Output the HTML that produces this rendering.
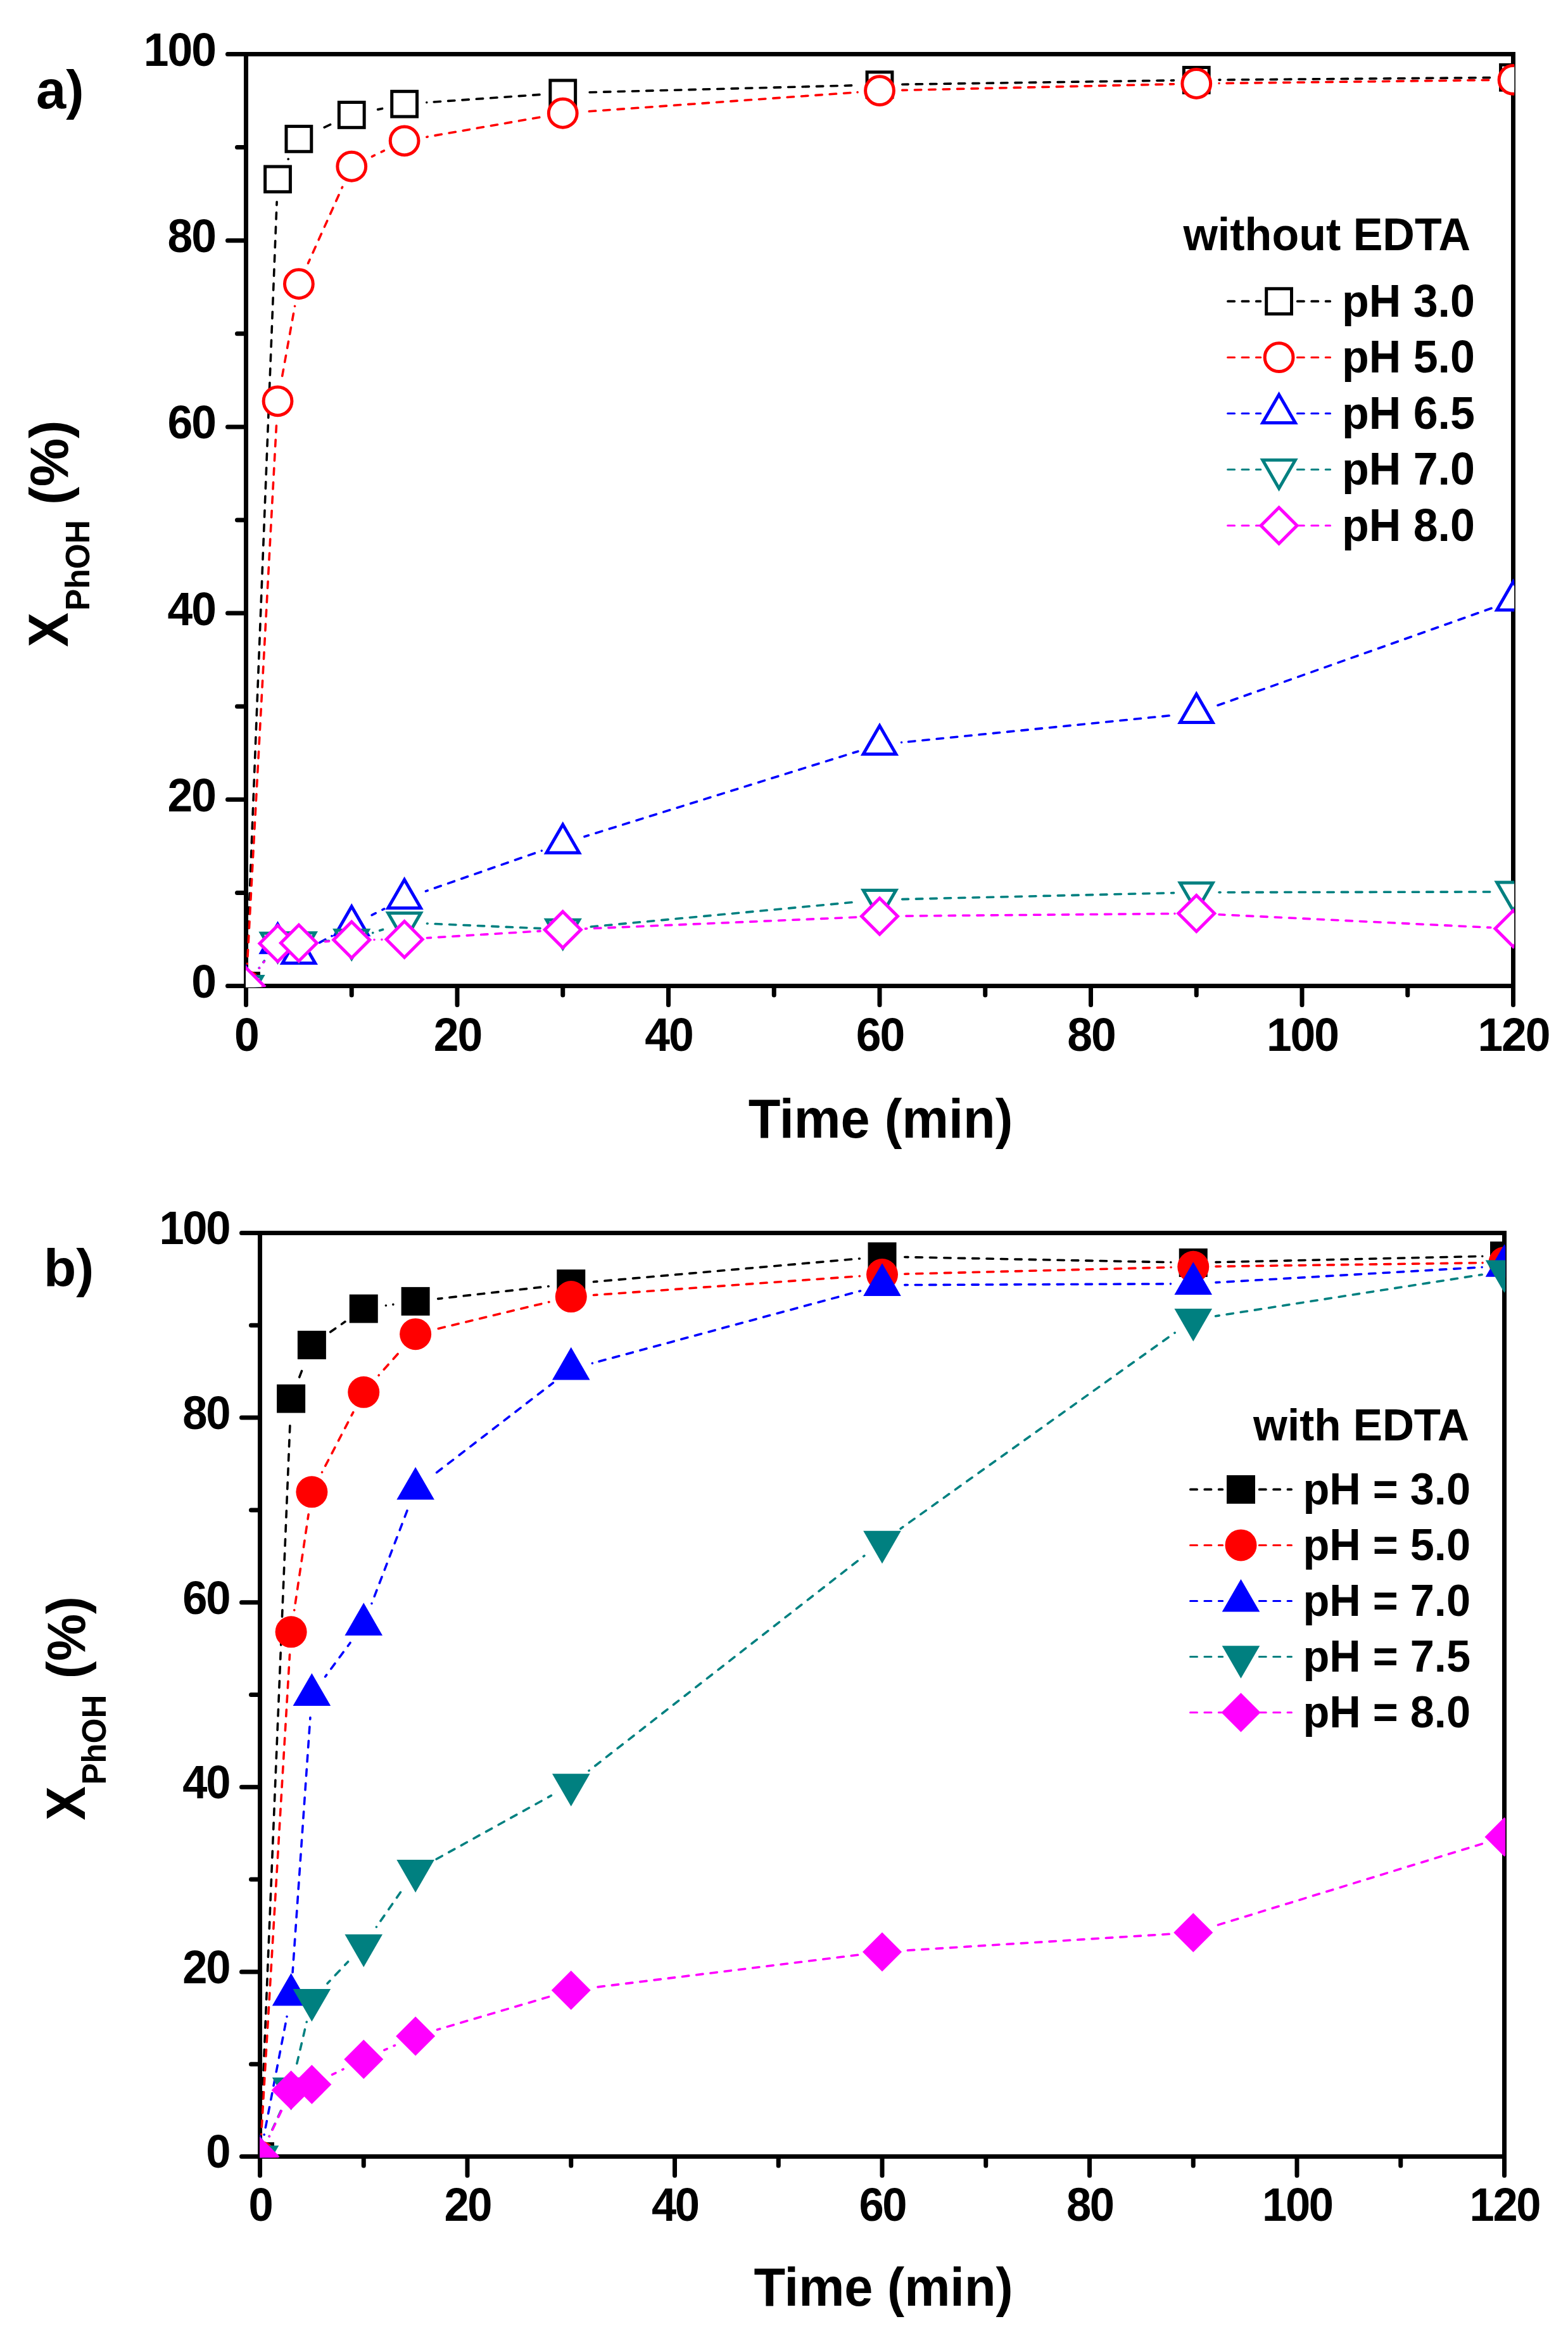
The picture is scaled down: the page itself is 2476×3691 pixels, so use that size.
<!DOCTYPE html>
<html lang="en"><head><meta charset="utf-8"><title>Phenol conversion vs time</title>
<style>html,body{margin:0;padding:0;background:#fff;overflow:hidden;width:2476px;height:3691px}svg{display:block}text{font-family:'Liberation Sans', Arial, Helvetica, sans-serif;font-weight:bold;fill:#000}</style>
</head><body>
<svg width="2476" height="3691" viewBox="0 0 2476 3691">
<rect width="2476" height="3691" fill="#fff"/>
<g stroke="#000" stroke-width="7" fill="none" stroke-linecap="butt">
<path d="M385 85.5H2393 M385 1556.5H2393 M388.5 82V1560 M2389.5 82V1560"/>
<path d="M359.5 1556.5H388.5 M374.5 1409.4H388.5 M359.5 1262.3H388.5 M374.5 1115.2H388.5 M359.5 968.1H388.5 M374.5 821H388.5 M359.5 673.9H388.5 M374.5 526.8H388.5 M359.5 379.7H388.5 M374.5 232.6H388.5 M359.5 85.5H388.5 M388.5 1556.5V1586.5 M555.25 1556.5V1571 M722 1556.5V1586.5 M888.75 1556.5V1571 M1055.5 1556.5V1586.5 M1222.25 1556.5V1571 M1389 1556.5V1586.5 M1555.75 1556.5V1571 M1722.5 1556.5V1586.5 M1889.25 1556.5V1571 M2056 1556.5V1586.5 M2222.75 1556.5V1571 M2389.5 1556.5V1586.5" stroke-linecap="round"/>
</g>
<clipPath id="clip1"><rect x="388.1" y="85.5" width="2003.1" height="1472.7"/></clipPath>
<g clip-path="url(#clip1)">
<path d="M389.88 1521.34L389.88 1521.32 M390.33 1509.94L390.74 1499.54 M391.21 1487.55L391.62 1477.16 M392.09 1465.17L392.5 1454.78 M392.97 1442.79L393.37 1432.4 M393.85 1420.4L394.25 1410.01 M394.72 1398.02L395.13 1387.63 M395.6 1375.64L396.01 1365.25 M396.48 1353.26L396.89 1342.86 M397.36 1330.87L397.77 1320.48 M398.24 1308.49L398.65 1298.1 M399.12 1286.11L399.53 1275.72 M400 1263.73L400.41 1253.33 M400.88 1241.34L401.29 1230.95 M401.76 1218.96L402.17 1208.57 M402.64 1196.58L403.05 1186.19 M403.52 1174.19L403.92 1163.8 M404.4 1151.81L404.8 1141.42 M405.27 1129.43L405.68 1119.04 M406.15 1107.05L406.56 1096.65 M407.03 1084.66L407.44 1074.27 M407.91 1062.28L408.32 1051.89 M408.79 1039.9L409.2 1029.51 M409.67 1017.52L410.08 1007.12 M410.55 995.13L410.96 984.74 M411.43 972.75L411.84 962.36 M412.31 950.37L412.72 939.98 M413.19 927.98L413.6 917.59 M414.07 905.6L414.47 895.21 M414.95 883.22L415.35 872.83 M415.82 860.84L416.23 850.44 M416.7 838.45L417.11 828.06 M417.58 816.07L417.99 805.68 M418.46 793.69L418.87 783.3 M419.34 771.31L419.75 760.91 M420.22 748.92L420.63 738.53 M421.1 726.54L421.51 716.15 M421.98 704.16L422.39 693.77 M422.86 681.77L423.27 671.38 M423.74 659.39L424.15 649 M424.62 637.01L425.02 626.62 M425.5 614.63L425.9 604.23 M426.37 592.24L426.78 581.85 M427.25 569.86L427.66 559.47 M428.13 547.48L428.54 537.09 M429.01 525.1L429.42 514.7 M429.89 502.71L430.3 492.32 M430.77 480.33L431.18 469.94 M431.65 457.95L432.06 447.56 M432.53 435.56L432.94 425.17 M433.41 413.18L433.82 402.79 M434.29 390.8L434.7 380.41 M435.17 368.42L435.57 358.02 M436.05 346.03L436.45 335.64 M436.92 323.65L437.12 318.68 M455.16 251.21L455.24 251.06 M512.16 201.02L521.62 196.72 M596.63 172.87L603.56 171.44 M673.79 161.76L673.81 161.76 M685.23 160.96L695.61 160.24 M707.58 159.41L717.95 158.69 M729.93 157.86L740.3 157.14 M752.27 156.31L762.65 155.59 M774.62 154.76L784.99 154.04 M796.96 153.21L807.34 152.49 M819.31 151.66L829.69 150.94 M841.66 150.11L852.03 149.39 M931.13 145.73L941.53 145.46 M953.52 145.15L963.92 144.87 M975.91 144.56L986.31 144.29 M998.31 143.97L1008.7 143.7 M1020.7 143.39L1031.09 143.12 M1043.09 142.8L1053.49 142.53 M1065.48 142.22L1075.88 141.94 M1087.88 141.63L1098.27 141.36 M1110.27 141.04L1120.66 140.77 M1132.66 140.46L1143.06 140.19 M1155.05 139.87L1165.45 139.6 M1177.44 139.29L1187.84 139.01 M1199.84 138.7L1210.23 138.43 M1222.23 138.11L1232.63 137.84 M1244.62 137.53L1255.02 137.26 M1267.01 136.94L1277.41 136.67 M1289.41 136.36L1299.8 136.08 M1311.8 135.77L1322.2 135.5 M1334.19 135.18L1344.59 134.91 M1424.8 133.22L1434.17 133.08 M1446.17 132.91L1456.56 132.76 M1468.56 132.58L1478.96 132.43 M1490.96 132.25L1501.36 132.1 M1513.36 131.92L1523.76 131.77 M1535.76 131.59L1546.16 131.44 M1558.15 131.26L1568.55 131.11 M1580.55 130.93L1590.95 130.78 M1602.95 130.6L1613.35 130.45 M1625.35 130.27L1635.75 130.12 M1647.74 129.94L1658.14 129.79 M1670.14 129.62L1680.54 129.46 M1692.54 129.29L1702.94 129.13 M1714.94 128.96L1725.34 128.8 M1737.33 128.63L1747.73 128.47 M1759.73 128.3L1770.13 128.15 M1782.13 127.97L1792.53 127.82 M1804.53 127.64L1814.93 127.49 M1826.92 127.31L1837.32 127.16 M1849.32 126.98L1853.45 126.92 M1925.05 126.1L1926.92 126.08 M1938.92 125.98L1949.32 125.9 M1961.32 125.8L1971.72 125.71 M1983.72 125.62L1994.11 125.53 M2006.11 125.43L2016.51 125.35 M2028.51 125.25L2038.91 125.16 M2050.91 125.06L2061.31 124.98 M2073.31 124.88L2083.71 124.79 M2095.71 124.69L2106.11 124.61 M2118.11 124.51L2128.51 124.42 M2140.51 124.33L2150.91 124.24 M2162.91 124.14L2173.31 124.06 M2185.31 123.96L2195.71 123.87 M2207.71 123.77L2218.11 123.69 M2230.11 123.59L2240.51 123.5 M2252.51 123.4L2262.91 123.32 M2274.91 123.22L2285.3 123.13 M2297.3 123.03L2307.7 122.95 M2319.7 122.85L2330.1 122.76 M2342.1 122.67L2352.5 122.58" stroke="#000" stroke-width="3.6" stroke-linecap="round" fill="none"/>
<rect x="368.6" y="1536.6" width="39.8" height="39.8" fill="#fff" stroke="#000" stroke-width="5.0"/>
<rect x="418.62" y="263.01" width="39.8" height="39.8" fill="#fff" stroke="#000" stroke-width="5.0"/>
<rect x="451.98" y="199.46" width="39.8" height="39.8" fill="#fff" stroke="#000" stroke-width="5.0"/>
<rect x="535.35" y="161.51" width="39.8" height="39.8" fill="#fff" stroke="#000" stroke-width="5.0"/>
<rect x="618.73" y="144.3" width="39.8" height="39.8" fill="#fff" stroke="#000" stroke-width="5.0"/>
<rect x="868.85" y="126.94" width="39.8" height="39.8" fill="#fff" stroke="#000" stroke-width="5.0"/>
<rect x="1369.1" y="113.85" width="39.8" height="39.8" fill="#fff" stroke="#000" stroke-width="5.0"/>
<rect x="1869.35" y="106.49" width="39.8" height="39.8" fill="#fff" stroke="#000" stroke-width="5.0"/>
<rect x="2369.6" y="102.37" width="39.8" height="39.8" fill="#fff" stroke="#000" stroke-width="5.0"/>
<path d="M390.4 1521.36L390.41 1521.34 M391.02 1509.97L391.58 1499.58 M392.23 1487.6L392.8 1477.22 M393.45 1465.23L394.01 1454.85 M394.66 1442.87L395.22 1432.48 M395.87 1420.5L396.43 1410.11 M397.08 1398.13L397.64 1387.75 M398.29 1375.77L398.86 1365.38 M399.51 1353.4L400.07 1343.01 M400.72 1331.03L401.28 1320.65 M401.93 1308.66L402.49 1298.28 M403.14 1286.3L403.7 1275.91 M404.35 1263.93L404.92 1253.54 M405.57 1241.56L406.13 1231.18 M406.78 1219.19L407.34 1208.81 M407.99 1196.83L408.55 1186.44 M409.2 1174.46L409.76 1164.08 M410.41 1152.09L410.98 1141.71 M411.63 1129.73L412.19 1119.34 M412.84 1107.36L413.4 1096.97 M414.05 1084.99L414.61 1074.61 M415.26 1062.62L415.82 1052.24 M416.47 1040.26L417.04 1029.87 M417.69 1017.89L418.25 1007.51 M418.9 995.52L419.46 985.14 M420.11 973.16L420.67 962.77 M421.32 950.79L421.88 940.4 M422.53 928.42L423.1 918.04 M423.75 906.05L424.31 895.67 M424.96 883.69L425.52 873.3 M426.17 861.32L426.73 850.94 M427.38 838.95L427.94 828.57 M428.59 816.59L429.16 806.2 M429.81 794.22L430.37 783.83 M431.02 771.85L431.58 761.47 M432.23 749.48L432.79 739.1 M433.44 727.12L434 716.73 M434.65 704.75L435.22 694.36 M435.87 682.38L436.43 672 M445.7 593.5L447.54 583.26 M449.67 571.45L451.52 561.22 M453.64 549.41L455.49 539.17 M457.62 527.36L459.46 517.13 M461.59 505.32L463.43 495.08 M465.54 483.39L465.55 483.37 M486.55 415.6L489.1 409.93 M494.02 398.98L498.28 389.5 M503.2 378.55L507.47 369.07 M512.39 358.12L516.65 348.64 M521.57 337.69L525.83 328.2 M530.75 317.26L535.02 307.77 M539.94 296.83L540.57 295.41 M587.46 247.13L591.46 245.19 M602.25 239.95L606.42 237.93 M673.89 216.16L675.25 215.93 M687.07 213.87L697.32 212.09 M709.14 210.03L719.38 208.24 M731.21 206.19L741.45 204.4 M753.27 202.34L763.52 200.56 M775.34 198.5L785.59 196.72 M797.41 194.66L807.66 192.88 M819.48 190.82L829.72 189.04 M841.55 186.98L851.79 185.19 M930.33 175.8L940.71 175.06 M952.68 174.21L963.05 173.47 M975.02 172.62L985.39 171.88 M997.36 171.03L1007.74 170.29 M1019.71 169.44L1030.08 168.7 M1042.05 167.85L1052.42 167.11 M1064.39 166.26L1074.77 165.52 M1086.74 164.67L1097.11 163.93 M1109.08 163.08L1119.45 162.34 M1131.42 161.49L1141.8 160.75 M1153.77 159.9L1164.14 159.16 M1176.11 158.31L1186.48 157.57 M1198.45 156.72L1208.83 155.98 M1220.8 155.13L1231.17 154.39 M1243.14 153.54L1253.51 152.8 M1265.48 151.95L1275.86 151.21 M1287.83 150.36L1298.2 149.62 M1310.17 148.77L1320.54 148.03 M1332.51 147.18L1342.89 146.44 M1354.06 145.65L1354.08 145.65 M1424.79 142.36L1432.36 142.19 M1444.36 141.93L1454.76 141.69 M1466.75 141.43L1477.15 141.19 M1489.15 140.93L1499.54 140.69 M1511.54 140.42L1521.94 140.19 M1533.94 139.92L1544.33 139.69 M1556.33 139.42L1566.73 139.19 M1578.72 138.92L1589.12 138.69 M1601.12 138.42L1611.52 138.19 M1623.51 137.92L1633.91 137.69 M1645.91 137.42L1656.31 137.19 M1668.3 136.92L1678.7 136.69 M1690.7 136.42L1701.09 136.19 M1713.09 135.92L1723.49 135.69 M1735.49 135.42L1745.88 135.19 M1757.88 134.92L1768.28 134.69 M1780.27 134.42L1790.67 134.19 M1802.67 133.92L1813.07 133.69 M1825.06 133.42L1835.46 133.19 M1847.46 132.92L1853.46 132.78 M1925.04 131.55L1925.06 131.55 M1937.04 131.41L1947.44 131.28 M1959.44 131.14L1969.84 131.01 M1981.84 130.87L1992.24 130.74 M2004.24 130.6L2014.64 130.47 M2026.64 130.33L2037.04 130.2 M2049.04 130.06L2059.43 129.93 M2071.43 129.79L2081.83 129.66 M2093.83 129.52L2104.23 129.39 M2116.23 129.25L2126.63 129.12 M2138.63 128.98L2149.03 128.85 M2161.03 128.71L2171.43 128.58 M2183.43 128.44L2193.82 128.31 M2205.82 128.17L2216.22 128.04 M2228.22 127.9L2238.62 127.77 M2250.62 127.63L2261.02 127.5 M2273.02 127.36L2283.42 127.23 M2295.42 127.09L2305.82 126.96 M2317.82 126.82L2328.22 126.69 M2340.21 126.55L2350.61 126.42" stroke="#f00" stroke-width="3.6" stroke-linecap="round" fill="none"/>
<circle cx="388.5" cy="1556.5" r="22.4" fill="#fff" stroke="#f00" stroke-width="5.0"/>
<circle cx="438.52" cy="633.3" r="22.4" fill="#fff" stroke="#f00" stroke-width="5.0"/>
<circle cx="471.88" cy="448.25" r="22.4" fill="#fff" stroke="#f00" stroke-width="5.0"/>
<circle cx="555.25" cy="262.76" r="22.4" fill="#fff" stroke="#f00" stroke-width="5.0"/>
<circle cx="638.62" cy="222.3" r="22.4" fill="#fff" stroke="#f00" stroke-width="5.0"/>
<circle cx="888.75" cy="178.76" r="22.4" fill="#fff" stroke="#f00" stroke-width="5.0"/>
<circle cx="1389" cy="143.16" r="22.4" fill="#fff" stroke="#f00" stroke-width="5.0"/>
<circle cx="1889.25" cy="131.98" r="22.4" fill="#fff" stroke="#f00" stroke-width="5.0"/>
<circle cx="2389.5" cy="125.95" r="22.4" fill="#fff" stroke="#f00" stroke-width="5.0"/>
<path d="M409.42 1528.2L409.43 1528.19 M416.2 1519.03L417.24 1517.62 M504.59 1488.06L513.75 1483.14 M524.01 1477.64L524.02 1477.63 M587.19 1444.71L593.18 1441.68 M603.88 1436.26L606.69 1434.84 M672.43 1406.88L675.13 1405.94 M686.46 1401.99L696.28 1398.56 M707.61 1394.61L717.43 1391.19 M728.76 1387.23L738.58 1383.81 M749.91 1379.86L759.73 1376.43 M771.06 1372.48L780.88 1369.06 M792.21 1365.11L802.03 1361.68 M813.36 1357.73L823.18 1354.3 M834.51 1350.35L844.33 1346.93 M855.29 1343.1L855.31 1343.1 M922.93 1320.78L929.38 1318.77 M940.84 1315.2L950.76 1312.11 M962.22 1308.54L972.15 1305.44 M983.61 1301.87L993.54 1298.78 M1004.99 1295.2L1014.92 1292.11 M1026.38 1288.54L1036.31 1285.44 M1047.76 1281.87L1057.69 1278.78 M1069.15 1275.21L1079.08 1272.11 M1090.53 1268.54L1100.46 1265.45 M1111.92 1261.88L1121.85 1258.78 M1133.3 1255.21L1143.23 1252.12 M1154.69 1248.55L1164.62 1245.45 M1176.07 1241.88L1186 1238.78 M1197.46 1235.21L1207.39 1232.12 M1218.84 1228.55L1228.77 1225.45 M1240.23 1221.88L1250.16 1218.79 M1261.61 1215.22L1271.54 1212.12 M1283 1208.55L1292.93 1205.46 M1304.38 1201.89L1314.31 1198.79 M1325.77 1195.22L1335.7 1192.12 M1347.16 1188.55L1354.82 1186.16 M1423.6 1172.05L1423.62 1172.05 M1434.54 1170.96L1444.89 1169.92 M1456.83 1168.73L1467.18 1167.69 M1479.12 1166.5L1489.47 1165.47 M1501.41 1164.27L1511.76 1163.24 M1523.7 1162.04L1534.05 1161.01 M1545.99 1159.82L1556.34 1158.78 M1568.28 1157.59L1578.62 1156.55 M1590.56 1155.36L1600.91 1154.32 M1612.85 1153.13L1623.2 1152.1 M1635.14 1150.9L1645.49 1149.87 M1657.43 1148.67L1667.78 1147.64 M1679.72 1146.45L1690.07 1145.41 M1702.01 1144.22L1712.36 1143.18 M1724.3 1141.99L1734.65 1140.95 M1746.59 1139.76L1756.94 1138.73 M1768.88 1137.53L1779.22 1136.5 M1791.16 1135.3L1801.51 1134.27 M1813.45 1133.07L1823.8 1132.04 M1835.74 1130.85L1846.09 1129.81 M1923.02 1113.52L1932.82 1110.05 M1944.13 1106.04L1953.93 1102.56 M1965.24 1098.55L1975.04 1095.07 M1986.35 1091.06L1996.15 1087.59 M2007.46 1083.58L2017.26 1080.1 M2028.57 1076.09L2038.38 1072.61 M2049.69 1068.6L2059.49 1065.13 M2070.8 1061.12L2080.6 1057.64 M2091.91 1053.63L2101.71 1050.15 M2113.02 1046.14L2122.82 1042.67 M2134.13 1038.65L2143.94 1035.18 M2155.25 1031.17L2165.05 1027.69 M2176.36 1023.68L2186.16 1020.2 M2197.47 1016.19L2207.27 1012.72 M2218.58 1008.71L2228.38 1005.23 M2239.69 1001.22L2249.49 997.74 M2260.8 993.73L2270.61 990.26 M2281.92 986.25L2291.72 982.77 M2303.03 978.76L2312.83 975.28 M2324.14 971.27L2333.94 967.8 M2345.25 963.79L2355.05 960.31" stroke="#00f" stroke-width="3.6" stroke-linecap="round" fill="none"/>
<polygon points="388.5,1526.7 414.3,1571.4 362.7,1571.4" fill="#fff" stroke="#00f" stroke-width="5.0" stroke-linejoin="miter"/>
<polygon points="438.52,1459.03 464.32,1503.73 412.72,1503.73" fill="#fff" stroke="#00f" stroke-width="5.0" stroke-linejoin="miter"/>
<polygon points="471.88,1475.8 497.68,1520.5 446.07,1520.5" fill="#fff" stroke="#00f" stroke-width="5.0" stroke-linejoin="miter"/>
<polygon points="555.25,1431.09 581.05,1475.79 529.45,1475.79" fill="#fff" stroke="#00f" stroke-width="5.0" stroke-linejoin="miter"/>
<polygon points="638.62,1388.87 664.42,1433.57 612.83,1433.57" fill="#fff" stroke="#00f" stroke-width="5.0" stroke-linejoin="miter"/>
<polygon points="888.75,1301.64 914.55,1346.34 862.95,1346.34" fill="#fff" stroke="#00f" stroke-width="5.0" stroke-linejoin="miter"/>
<polygon points="1389,1145.71 1414.8,1190.41 1363.2,1190.41" fill="#fff" stroke="#00f" stroke-width="5.0" stroke-linejoin="miter"/>
<polygon points="1889.25,1095.7 1915.05,1140.4 1863.45,1140.4" fill="#fff" stroke="#00f" stroke-width="5.0" stroke-linejoin="miter"/>
<polygon points="2389.5,918.29 2415.3,962.99 2363.7,962.99" fill="#fff" stroke="#00f" stroke-width="5.0" stroke-linejoin="miter"/>
<path d="M409.27 1528.1L409.29 1528.08 M416.01 1518.89L417.39 1517 M512.33 1485.59L519.5 1485.22 M588.75 1472.58L588.77 1472.57 M599.62 1469.07L604.56 1467.47 M674.39 1458.01L675.2 1458.04 M687.19 1458.56L697.58 1459 M709.57 1459.52L719.96 1459.96 M731.95 1460.48L742.34 1460.92 M754.33 1461.44L764.72 1461.89 M776.71 1462.4L787.1 1462.85 M799.08 1463.36L809.48 1463.81 M821.46 1464.32L831.85 1464.77 M843.84 1465.28L852.98 1465.67 M933.21 1463.05L943.56 1462.08 M955.51 1460.97L965.87 1460 M977.81 1458.88L988.17 1457.91 M1000.12 1456.8L1010.47 1455.83 M1022.42 1454.71L1032.77 1453.74 M1044.72 1452.63L1055.08 1451.66 M1067.02 1450.54L1077.38 1449.57 M1089.33 1448.45L1099.68 1447.49 M1111.63 1446.37L1121.98 1445.4 M1133.93 1444.28L1144.29 1443.32 M1156.24 1442.2L1166.59 1441.23 M1178.54 1440.11L1188.89 1439.14 M1200.84 1438.03L1211.2 1437.06 M1223.14 1435.94L1233.5 1434.97 M1245.45 1433.86L1255.8 1432.89 M1267.75 1431.77L1278.1 1430.8 M1290.05 1429.69L1300.41 1428.72 M1312.35 1427.6L1322.71 1426.63 M1334.66 1425.51L1345.01 1424.55 M1424.79 1419.6L1434.41 1419.38 M1446.4 1419.1L1456.8 1418.86 M1468.8 1418.58L1479.2 1418.34 M1491.19 1418.06L1501.59 1417.82 M1513.59 1417.54L1523.98 1417.3 M1535.98 1417.02L1546.38 1416.78 M1558.37 1416.5L1568.77 1416.26 M1580.77 1415.98L1591.17 1415.74 M1603.16 1415.46L1613.56 1415.22 M1625.56 1414.94L1635.95 1414.7 M1647.95 1414.42L1658.35 1414.18 M1670.34 1413.9L1680.74 1413.66 M1692.74 1413.38L1703.14 1413.14 M1715.13 1412.86L1725.53 1412.61 M1737.53 1412.34L1747.92 1412.09 M1759.92 1411.82L1770.32 1411.57 M1782.31 1411.3L1792.71 1411.05 M1804.71 1410.78L1815.1 1410.53 M1827.1 1410.26L1837.5 1410.01 M1849.5 1409.74L1853.46 1409.64 M1925.05 1408.75L1927.08 1408.74 M1939.08 1408.72L1949.48 1408.71 M1961.48 1408.68L1971.88 1408.67 M1983.88 1408.64L1994.28 1408.63 M2006.28 1408.61L2016.68 1408.59 M2028.68 1408.57L2039.08 1408.55 M2051.08 1408.53L2061.48 1408.51 M2073.48 1408.49L2083.88 1408.47 M2095.88 1408.45L2106.28 1408.43 M2118.28 1408.41L2128.68 1408.39 M2140.68 1408.37L2151.08 1408.35 M2163.08 1408.33L2173.48 1408.31 M2185.48 1408.29L2195.88 1408.27 M2207.88 1408.25L2218.28 1408.23 M2230.28 1408.21L2240.68 1408.19 M2252.68 1408.17L2263.08 1408.15 M2275.08 1408.13L2285.48 1408.11 M2297.48 1408.09L2307.88 1408.07 M2319.88 1408.05L2330.28 1408.03 M2342.28 1408.01L2352.68 1407.99" stroke="#008080" stroke-width="3.6" stroke-linecap="round" fill="none"/>
<polygon points="388.5,1586.3 414.3,1541.6 362.7,1541.6" fill="#fff" stroke="#008080" stroke-width="5.0" stroke-linejoin="miter"/>
<polygon points="438.52,1517.9 464.32,1473.2 412.72,1473.2" fill="#fff" stroke="#008080" stroke-width="5.0" stroke-linejoin="miter"/>
<polygon points="471.88,1517.46 497.68,1472.76 446.07,1472.76" fill="#fff" stroke="#008080" stroke-width="5.0" stroke-linejoin="miter"/>
<polygon points="555.25,1513.19 581.05,1468.49 529.45,1468.49" fill="#fff" stroke="#008080" stroke-width="5.0" stroke-linejoin="miter"/>
<polygon points="638.62,1486.27 664.42,1441.57 612.83,1441.57" fill="#fff" stroke="#008080" stroke-width="5.0" stroke-linejoin="miter"/>
<polygon points="888.75,1497.01 914.55,1452.31 862.95,1452.31" fill="#fff" stroke="#008080" stroke-width="5.0" stroke-linejoin="miter"/>
<polygon points="1389,1450.23 1414.8,1405.53 1363.2,1405.53" fill="#fff" stroke="#008080" stroke-width="5.0" stroke-linejoin="miter"/>
<polygon points="1889.25,1438.61 1915.05,1393.91 1863.45,1393.91" fill="#fff" stroke="#008080" stroke-width="5.0" stroke-linejoin="miter"/>
<polygon points="2389.5,1437.73 2415.3,1393.03 2363.7,1393.03" fill="#fff" stroke="#008080" stroke-width="5.0" stroke-linejoin="miter"/>
<path d="M409.57 1528.31L409.58 1528.3 M416.4 1519.17L417.09 1518.25 M513.48 1486.34L519.51 1485.98 M591.02 1483.45L591.04 1483.45 M602.91 1483.33L602.93 1483.33 M674.36 1480.76L680.52 1480.39 M692.5 1479.65L702.88 1479.02 M714.86 1478.29L725.24 1477.65 M737.22 1476.92L747.6 1476.28 M759.58 1475.55L769.96 1474.92 M781.94 1474.18L792.32 1473.55 M804.29 1472.82L814.67 1472.18 M826.65 1471.45L837.03 1470.81 M849.01 1470.08L853.02 1469.84 M924.52 1466.14L926.5 1466.05 M938.49 1465.55L948.88 1465.11 M960.87 1464.6L971.26 1464.16 M983.25 1463.65L993.64 1463.21 M1005.63 1462.7L1016.02 1462.26 M1028.01 1461.75L1038.4 1461.31 M1050.39 1460.81L1060.78 1460.37 M1072.77 1459.86L1083.16 1459.42 M1095.15 1458.91L1105.54 1458.47 M1117.53 1457.96L1127.92 1457.52 M1139.91 1457.02L1150.3 1456.58 M1162.29 1456.07L1172.68 1455.63 M1184.67 1455.12L1195.06 1454.68 M1207.05 1454.17L1217.44 1453.73 M1229.43 1453.23L1239.82 1452.79 M1251.81 1452.28L1262.2 1451.84 M1274.19 1451.33L1284.58 1450.89 M1296.57 1450.38L1306.96 1449.94 M1318.95 1449.44L1329.34 1449 M1341.33 1448.49L1351.72 1448.05 M1430.89 1446.1L1441.29 1446.01 M1453.28 1445.9L1463.68 1445.81 M1475.68 1445.7L1486.08 1445.61 M1498.08 1445.51L1508.48 1445.42 M1520.48 1445.31L1530.88 1445.22 M1542.88 1445.11L1553.28 1445.02 M1565.28 1444.91L1575.68 1444.82 M1587.68 1444.72L1598.08 1444.62 M1610.08 1444.52L1620.48 1444.43 M1632.48 1444.32L1642.88 1444.23 M1654.88 1444.12L1665.28 1444.03 M1677.28 1443.93L1687.68 1443.83 M1699.68 1443.73L1710.07 1443.64 M1722.07 1443.53L1732.47 1443.44 M1744.47 1443.33L1754.87 1443.24 M1766.87 1443.14L1777.27 1443.04 M1789.27 1442.94L1799.67 1442.85 M1811.67 1442.74L1822.07 1442.65 M1834.07 1442.54L1844.47 1442.45 M1854.95 1442.36L1854.97 1442.36 M1925.01 1443.77L1934.02 1444.2 M1946 1444.78L1956.39 1445.27 M1968.38 1445.85L1978.76 1446.35 M1990.75 1446.92L2001.14 1447.42 M2013.13 1447.99L2023.51 1448.49 M2035.5 1449.07L2045.89 1449.56 M2057.87 1450.14L2068.26 1450.64 M2080.25 1451.21L2090.64 1451.71 M2102.62 1452.28L2113.01 1452.78 M2125 1453.36L2135.39 1453.85 M2147.37 1454.43L2157.76 1454.93 M2169.75 1455.5L2180.13 1456 M2192.12 1456.57L2202.51 1457.07 M2214.49 1457.65L2224.88 1458.14 M2236.87 1458.72L2247.26 1459.22 M2259.24 1459.79L2269.63 1460.29 M2281.62 1460.86L2292.01 1461.36 M2303.99 1461.94L2314.38 1462.43 M2326.37 1463.01L2336.75 1463.51 M2348.74 1464.08L2353.74 1464.32" stroke="#f0f" stroke-width="3.6" stroke-linecap="round" fill="none"/>
<polygon points="388.5,1528 417,1556.5 388.5,1585 360,1556.5" fill="#fff" stroke="#f0f" stroke-width="5.0" stroke-linejoin="miter"/>
<polygon points="438.52,1461.07 467.02,1489.57 438.52,1518.07 410.02,1489.57" fill="#fff" stroke="#f0f" stroke-width="5.0" stroke-linejoin="miter"/>
<polygon points="471.88,1460.33 500.38,1488.83 471.88,1517.33 443.38,1488.83" fill="#fff" stroke="#f0f" stroke-width="5.0" stroke-linejoin="miter"/>
<polygon points="555.25,1455.33 583.75,1483.83 555.25,1512.33 526.75,1483.83" fill="#fff" stroke="#f0f" stroke-width="5.0" stroke-linejoin="miter"/>
<polygon points="638.62,1454.45 667.12,1482.95 638.62,1511.45 610.12,1482.95" fill="#fff" stroke="#f0f" stroke-width="5.0" stroke-linejoin="miter"/>
<polygon points="888.75,1439.15 917.25,1467.65 888.75,1496.15 860.25,1467.65" fill="#fff" stroke="#f0f" stroke-width="5.0" stroke-linejoin="miter"/>
<polygon points="1389,1417.97 1417.5,1446.47 1389,1474.97 1360.5,1446.47" fill="#fff" stroke="#f0f" stroke-width="5.0" stroke-linejoin="miter"/>
<polygon points="1889.25,1413.56 1917.75,1442.06 1889.25,1470.56 1860.75,1442.06" fill="#fff" stroke="#f0f" stroke-width="5.0" stroke-linejoin="miter"/>
<polygon points="2389.5,1437.53 2418,1466.03 2389.5,1494.53 2361,1466.03" fill="#fff" stroke="#f0f" stroke-width="5.0" stroke-linejoin="miter"/>
</g>
<text transform="translate(339.8 1574.9) scale(0.9530 1)" font-size="75" text-anchor="end" letter-spacing="-2.2">0</text>
<text transform="translate(339.8 1280.7) scale(0.9530 1)" font-size="75" text-anchor="end" letter-spacing="-2.2">20</text>
<text transform="translate(339.8 986.5) scale(0.9530 1)" font-size="75" text-anchor="end" letter-spacing="-2.2">40</text>
<text transform="translate(339.8 692.3) scale(0.9530 1)" font-size="75" text-anchor="end" letter-spacing="-2.2">60</text>
<text transform="translate(339.8 398.1) scale(0.9530 1)" font-size="75" text-anchor="end" letter-spacing="-2.2">80</text>
<text transform="translate(339.8 103.9) scale(0.9530 1)" font-size="75" text-anchor="end" letter-spacing="-2.2">100</text>
<text transform="translate(388.95 1659) scale(0.9530 1)" font-size="75" text-anchor="middle" letter-spacing="-2.2">0</text>
<text transform="translate(722.45 1659) scale(0.9530 1)" font-size="75" text-anchor="middle" letter-spacing="-2.2">20</text>
<text transform="translate(1055.95 1659) scale(0.9530 1)" font-size="75" text-anchor="middle" letter-spacing="-2.2">40</text>
<text transform="translate(1389.45 1659) scale(0.9530 1)" font-size="75" text-anchor="middle" letter-spacing="-2.2">60</text>
<text transform="translate(1722.95 1659) scale(0.9530 1)" font-size="75" text-anchor="middle" letter-spacing="-2.2">80</text>
<text transform="translate(2056.45 1659) scale(0.9530 1)" font-size="75" text-anchor="middle" letter-spacing="-2.2">100</text>
<text transform="translate(2389.95 1659) scale(0.9530 1)" font-size="75" text-anchor="middle" letter-spacing="-2.2">120</text>
<text transform="translate(1390.5 1796.3) scale(0.9530 1)" font-size="87" text-anchor="middle">Time (min)</text>
<g transform="translate(107.2 1021.6) rotate(-90)">
<text transform="translate(0 0) scale(0.9280 1)" font-size="88" text-anchor="start">X</text>
<text transform="translate(57.7 33.9) scale(0.9520 1)" font-size="54" text-anchor="start">PhOH</text>
<text x="224.6" y="0" font-size="86" text-anchor="start">(%)</text>
</g>
<text x="57" y="171" font-size="85" text-anchor="start">a)</text>
<text transform="translate(2322 395.4) scale(0.9790 1)" font-size="71.5" text-anchor="end">without EDTA</text>
<path d="M1939 475.7L1949.2 475.7 M1961.4 475.7L1971.6 475.7 M1983.8 475.7L1990.4 475.7" stroke="#000" stroke-width="3.8" stroke-linecap="round" fill="none"/>
<path d="M2048.8 475.7L2059 475.7 M2071.2 475.7L2081.4 475.7 M2093.6 475.7L2100.2 475.7" stroke="#000" stroke-width="3.8" stroke-linecap="round" fill="none"/>
<rect x="1999.7" y="455.8" width="39.8" height="39.8" fill="#fff" stroke="#000" stroke-width="5.0"/>
<text transform="translate(2329 499.7) scale(0.9790 1)" font-size="71.5" text-anchor="end">pH 3.0</text>
<path d="M1938.6 564.2L1949.6 564.2 M1961 564.2L1972 564.2 M1983.4 564.2L1990.8 564.2" stroke="#f00" stroke-width="3.0" stroke-linecap="round" fill="none"/>
<path d="M2048.4 564.2L2059.4 564.2 M2070.8 564.2L2081.8 564.2 M2093.2 564.2L2100.6 564.2" stroke="#f00" stroke-width="3.0" stroke-linecap="round" fill="none"/>
<circle cx="2019.6" cy="564.2" r="22.4" fill="#fff" stroke="#f00" stroke-width="5.0"/>
<text transform="translate(2329 588.2) scale(0.9790 1)" font-size="71.5" text-anchor="end">pH 5.0</text>
<path d="M1938.6 652.7L1949.6 652.7 M1961 652.7L1972 652.7 M1983.4 652.7L1990.8 652.7" stroke="#00f" stroke-width="3.0" stroke-linecap="round" fill="none"/>
<path d="M2048.4 652.7L2059.4 652.7 M2070.8 652.7L2081.8 652.7 M2093.2 652.7L2100.6 652.7" stroke="#00f" stroke-width="3.0" stroke-linecap="round" fill="none"/>
<polygon points="2019.6,622.9 2045.4,667.6 1993.8,667.6" fill="#fff" stroke="#00f" stroke-width="5.0" stroke-linejoin="miter"/>
<text transform="translate(2329 676.7) scale(0.9790 1)" font-size="71.5" text-anchor="end">pH 6.5</text>
<path d="M1938.6 741.2L1949.6 741.2 M1961 741.2L1972 741.2 M1983.4 741.2L1990.8 741.2" stroke="#008080" stroke-width="3.0" stroke-linecap="round" fill="none"/>
<path d="M2048.4 741.2L2059.4 741.2 M2070.8 741.2L2081.8 741.2 M2093.2 741.2L2100.6 741.2" stroke="#008080" stroke-width="3.0" stroke-linecap="round" fill="none"/>
<polygon points="2019.6,771 2045.4,726.3 1993.8,726.3" fill="#fff" stroke="#008080" stroke-width="5.0" stroke-linejoin="miter"/>
<text transform="translate(2329 765.2) scale(0.9790 1)" font-size="71.5" text-anchor="end">pH 7.0</text>
<path d="M1938.6 829.7L1949.6 829.7 M1961 829.7L1972 829.7 M1983.4 829.7L1990.8 829.7" stroke="#f0f" stroke-width="3.0" stroke-linecap="round" fill="none"/>
<path d="M2048.4 829.7L2059.4 829.7 M2070.8 829.7L2081.8 829.7 M2093.2 829.7L2100.6 829.7" stroke="#f0f" stroke-width="3.0" stroke-linecap="round" fill="none"/>
<polygon points="2019.6,801.2 2048.1,829.7 2019.6,858.2 1991.1,829.7" fill="#fff" stroke="#f0f" stroke-width="5.0" stroke-linejoin="miter"/>
<text transform="translate(2329 853.7) scale(0.9790 1)" font-size="71.5" text-anchor="end">pH 8.0</text>
<g stroke="#000" stroke-width="7" fill="none" stroke-linecap="butt">
<path d="M407 1946.5H2379 M407 3404.5H2379 M410.5 1943V3408 M2375.5 1943V3408"/>
<path d="M381.5 3404.5H410.5 M396.5 3258.7H410.5 M381.5 3112.9H410.5 M396.5 2967.1H410.5 M381.5 2821.3H410.5 M396.5 2675.5H410.5 M381.5 2529.7H410.5 M396.5 2383.9H410.5 M381.5 2238.1H410.5 M396.5 2092.3H410.5 M381.5 1946.5H410.5 M410.5 3404.5V3434.5 M574.25 3404.5V3419 M738 3404.5V3434.5 M901.75 3404.5V3419 M1065.5 3404.5V3434.5 M1229.25 3404.5V3419 M1393 3404.5V3434.5 M1556.75 3404.5V3419 M1720.5 3404.5V3434.5 M1884.25 3404.5V3419 M2048 3404.5V3434.5 M2211.75 3404.5V3419 M2375.5 3404.5V3434.5" stroke-linecap="round"/>
</g>
<clipPath id="clip2"><rect x="410.1" y="1946.5" width="1967.1" height="1459.7"/></clipPath>
<g clip-path="url(#clip2)">
<path d="M411.94 3369.34L411.94 3369.32 M412.41 3357.94L412.84 3347.55 M413.33 3335.56L413.76 3325.17 M414.25 3313.18L414.68 3302.79 M415.17 3290.8L415.6 3280.4 M416.09 3268.41L416.51 3258.02 M417.01 3246.03L417.43 3235.64 M417.93 3223.65L418.35 3213.26 M418.84 3201.27L419.27 3190.88 M419.76 3178.89L420.19 3168.5 M420.68 3156.51L421.11 3146.12 M421.6 3134.13L422.03 3123.74 M422.52 3111.75L422.95 3101.36 M423.44 3089.37L423.87 3078.97 M424.36 3066.98L424.78 3056.59 M425.28 3044.6L425.7 3034.21 M426.2 3022.22L426.62 3011.83 M427.12 2999.84L427.54 2989.45 M428.03 2977.46L428.46 2967.07 M428.95 2955.08L429.38 2944.69 M429.87 2932.7L430.3 2922.31 M430.79 2910.32L431.22 2899.93 M431.71 2887.94L432.14 2877.54 M432.63 2865.55L433.06 2855.16 M433.55 2843.17L433.97 2832.78 M434.47 2820.79L434.89 2810.4 M435.39 2798.41L435.81 2788.02 M436.3 2776.03L436.73 2765.64 M437.22 2753.65L437.65 2743.26 M438.14 2731.27L438.57 2720.88 M439.06 2708.89L439.49 2698.49 M439.98 2686.5L440.41 2676.11 M440.9 2664.12L441.33 2653.73 M441.82 2641.74L442.25 2631.35 M442.74 2619.36L443.16 2608.97 M443.66 2596.98L444.08 2586.59 M444.58 2574.6L445 2564.21 M445.49 2552.22L445.92 2541.83 M446.41 2529.84L446.84 2519.45 M447.33 2507.46L447.76 2497.06 M448.25 2485.07L448.68 2474.68 M449.17 2462.69L449.6 2452.3 M450.09 2440.31L450.52 2429.92 M451.01 2417.93L451.43 2407.54 M451.93 2395.55L452.35 2385.16 M452.85 2373.17L453.27 2362.78 M453.76 2350.79L454.19 2340.4 M454.68 2328.41L455.11 2318.02 M455.6 2306.03L456.03 2295.63 M456.52 2283.64L456.95 2273.25 M457.44 2261.26L457.87 2250.87 M472.74 2174.15L476.49 2164.45 M521.71 2102.83L529.68 2097.25 M539.51 2090.37L544.92 2086.58 M609.39 2061.05L609.41 2061.05 M620.82 2059.42L620.84 2059.42 M691.7 2050.38L697.96 2049.67 M709.89 2048.33L720.22 2047.16 M732.14 2045.82L742.48 2044.65 M754.4 2043.31L764.74 2042.14 M776.66 2040.8L787 2039.63 M798.92 2038.29L809.26 2037.12 M821.18 2035.78L831.51 2034.61 M843.44 2033.27L853.77 2032.1 M865.7 2030.76L866.18 2030.7 M937.41 2023.58L942.91 2023.1 M954.87 2022.06L965.23 2021.15 M977.18 2020.11L987.54 2019.2 M999.5 2018.16L1009.86 2017.26 M1021.81 2016.21L1032.17 2015.31 M1044.13 2014.27L1054.49 2013.36 M1066.44 2012.32L1076.8 2011.42 M1088.76 2010.37L1099.12 2009.47 M1111.07 2008.42L1121.43 2007.52 M1133.39 2006.48L1143.75 2005.57 M1155.7 2004.53L1166.07 2003.63 M1178.02 2002.58L1188.38 2001.68 M1200.33 2000.64L1210.7 1999.73 M1222.65 1998.69L1233.01 1997.79 M1244.97 1996.74L1255.33 1995.84 M1267.28 1994.79L1277.64 1993.89 M1289.6 1992.85L1299.96 1991.94 M1311.91 1990.9L1322.27 1990 M1334.23 1988.95L1344.59 1988.05 M1356.54 1987.01L1357.34 1986.94 M1428.79 1984.53L1433.99 1984.63 M1445.99 1984.86L1456.39 1985.07 M1468.39 1985.3L1478.79 1985.51 M1490.78 1985.74L1501.18 1985.94 M1513.18 1986.18L1523.58 1986.38 M1535.58 1986.62L1545.97 1986.82 M1557.97 1987.06L1568.37 1987.26 M1580.37 1987.5L1590.76 1987.7 M1602.76 1987.93L1613.16 1988.14 M1625.16 1988.37L1635.56 1988.58 M1647.55 1988.81L1657.95 1989.01 M1669.95 1989.25L1680.35 1989.45 M1692.35 1989.69L1702.74 1989.89 M1714.74 1990.13L1725.14 1990.33 M1737.14 1990.57L1747.53 1990.77 M1759.53 1991L1769.93 1991.21 M1781.93 1991.44L1792.33 1991.65 M1804.32 1991.88L1814.72 1992.09 M1826.72 1992.32L1837.12 1992.52 M1848.78 1992.75L1848.8 1992.75 M1920.04 1992.65L1926.7 1992.5 M1938.7 1992.24L1949.09 1992 M1961.09 1991.74L1971.49 1991.51 M1983.48 1991.24L1993.88 1991.01 M2005.88 1990.74L2016.28 1990.51 M2028.27 1990.24L2038.67 1990.01 M2050.67 1989.74L2061.06 1989.51 M2073.06 1989.24L2083.46 1989.01 M2095.46 1988.75L2105.85 1988.51 M2117.85 1988.25L2128.25 1988.02 M2140.25 1987.75L2150.64 1987.52 M2162.64 1987.25L2173.04 1987.02 M2185.03 1986.75L2195.43 1986.52 M2207.43 1986.25L2217.83 1986.02 M2229.82 1985.76L2240.22 1985.52 M2252.22 1985.26L2262.61 1985.03 M2274.61 1984.76L2285.01 1984.53 M2297.01 1984.26L2307.4 1984.03 M2319.4 1983.76L2329.8 1983.53 M2340.74 1983.29L2340.76 1983.29" stroke="#000" stroke-width="3.6" stroke-linecap="round" fill="none"/>
<rect x="388" y="3382" width="45" height="45" fill="#000"/>
<rect x="437.12" y="2185.57" width="45" height="45" fill="#000"/>
<rect x="469.88" y="2100.86" width="45" height="45" fill="#000"/>
<rect x="551.75" y="2043.56" width="45" height="45" fill="#000"/>
<rect x="633.62" y="2031.89" width="45" height="45" fill="#000"/>
<rect x="879.25" y="2004.19" width="45" height="45" fill="#000"/>
<rect x="1370.5" y="1961.32" width="45" height="45" fill="#000"/>
<rect x="1861.75" y="1970.95" width="45" height="45" fill="#000"/>
<rect x="2353" y="1960.01" width="45" height="45" fill="#000"/>
<path d="M412.58 3369.37L412.58 3369.35 M413.26 3357.98L413.88 3347.6 M414.59 3335.62L415.2 3325.24 M415.91 3313.26L416.53 3302.88 M417.24 3290.9L417.85 3280.52 M418.57 3268.54L419.18 3258.16 M419.89 3246.18L420.51 3235.8 M421.22 3223.82L421.83 3213.44 M422.54 3201.46L423.16 3191.08 M423.87 3179.1L424.49 3168.71 M425.2 3156.74L425.81 3146.35 M426.52 3134.37L427.14 3123.99 M427.85 3112.01L428.47 3101.63 M429.18 3089.65L429.79 3079.27 M430.5 3067.29L431.12 3056.91 M431.83 3044.93L432.45 3034.55 M433.16 3022.57L433.77 3012.19 M434.48 3000.21L435.1 2989.83 M435.81 2977.85L436.42 2967.47 M437.14 2955.49L437.75 2945.11 M438.46 2933.13L439.08 2922.75 M439.79 2910.77L440.4 2900.39 M441.11 2888.41L441.73 2878.03 M442.44 2866.05L443.06 2855.66 M443.77 2843.69L444.38 2833.3 M445.09 2821.33L445.71 2810.94 M446.42 2798.96L447.04 2788.58 M447.75 2776.6L448.36 2766.22 M449.07 2754.24L449.69 2743.86 M450.4 2731.88L451.02 2721.5 M451.73 2709.52L452.34 2699.14 M453.05 2687.16L453.67 2676.78 M454.38 2664.8L454.99 2654.42 M455.7 2642.44L456.32 2632.06 M457.03 2620.08L457.51 2612.09 M464.72 2541.94L464.73 2541.92 M466.34 2531.05L467.86 2520.76 M469.62 2508.89L471.15 2498.6 M472.9 2486.73L474.43 2476.45 M476.19 2464.58L477.71 2454.29 M479.47 2442.42L480.99 2432.13 M482.75 2420.26L484.28 2409.97 M486.04 2398.1L487.13 2390.74 M508.55 2324.21L508.56 2324.19 M513.76 2314.2L518.56 2304.97 M524.09 2294.32L528.89 2285.09 M534.43 2274.45L539.22 2265.22 M544.76 2254.57L549.56 2245.35 M555.09 2234.7L557.73 2229.62 M598.09 2171.15L598.28 2170.95 M606.27 2162L613.19 2154.24 M621.19 2145.29L628.11 2137.53 M692.23 2097.47L702.35 2095.04 M714.01 2092.23L724.13 2089.8 M735.79 2087L745.9 2084.57 M757.57 2081.76L767.68 2079.33 M779.35 2076.53L789.46 2074.1 M801.13 2071.29L811.24 2068.86 M822.91 2066.06L833.02 2063.62 M844.69 2060.82L854.8 2058.39 M866.47 2055.58L866.94 2055.47 M937.46 2044.56L942.96 2044.17 M954.93 2043.31L965.3 2042.58 M977.27 2041.72L987.65 2040.98 M999.62 2040.13L1009.99 2039.39 M1021.96 2038.54L1032.33 2037.8 M1044.3 2036.95L1054.68 2036.21 M1066.65 2035.36L1077.02 2034.62 M1088.99 2033.76L1099.36 2033.03 M1111.33 2032.17L1121.71 2031.43 M1133.68 2030.58L1144.05 2029.84 M1156.02 2028.99L1166.39 2028.25 M1178.36 2027.4L1188.74 2026.66 M1200.71 2025.81L1211.08 2025.07 M1223.05 2024.22L1233.42 2023.48 M1245.39 2022.62L1255.77 2021.89 M1267.74 2021.03L1278.11 2020.29 M1290.08 2019.44L1300.45 2018.7 M1312.42 2017.85L1322.8 2017.11 M1334.77 2016.26L1345.14 2015.52 M1357.11 2014.67L1357.29 2014.65 M1428.79 2011.22L1434.61 2011.07 M1446.6 2010.77L1457 2010.51 M1469 2010.22L1479.39 2009.96 M1491.39 2009.66L1501.79 2009.4 M1513.78 2009.1L1524.18 2008.84 M1536.18 2008.54L1546.57 2008.28 M1558.57 2007.98L1568.97 2007.72 M1580.96 2007.42L1591.36 2007.16 M1603.35 2006.87L1613.75 2006.61 M1625.75 2006.31L1636.14 2006.05 M1648.14 2005.75L1658.54 2005.49 M1670.53 2005.19L1680.93 2004.93 M1692.93 2004.63L1703.32 2004.37 M1715.32 2004.07L1725.72 2003.82 M1737.71 2003.52L1748.11 2003.26 M1760.11 2002.96L1770.5 2002.7 M1782.5 2002.4L1792.9 2002.14 M1804.89 2001.84L1815.29 2001.58 M1827.29 2001.28L1837.68 2001.02 M1849.06 2000.74L1849.08 2000.74 M1920.05 1999.37L1927.26 1999.28 M1939.26 1999.11L1949.66 1998.97 M1961.66 1998.81L1972.06 1998.66 M1984.06 1998.5L1994.46 1998.36 M2006.46 1998.19L2016.86 1998.05 M2028.85 1997.89L2039.25 1997.75 M2051.25 1997.58L2061.65 1997.44 M2073.65 1997.28L2084.05 1997.14 M2096.05 1996.97L2106.45 1996.83 M2118.45 1996.67L2128.84 1996.52 M2140.84 1996.36L2151.24 1996.22 M2163.24 1996.05L2173.64 1995.91 M2185.64 1995.75L2196.04 1995.61 M2208.04 1995.44L2218.44 1995.3 M2230.44 1995.14L2240.83 1994.99 M2252.83 1994.83L2263.23 1994.69 M2275.23 1994.52L2285.63 1994.38 M2297.63 1994.22L2308.03 1994.08 M2320.03 1993.91L2330.43 1993.77 M2341.05 1993.63L2341.07 1993.63" stroke="#f00" stroke-width="3.6" stroke-linecap="round" fill="none"/>
<circle cx="410.5" cy="3404.5" r="25" fill="#f00"/>
<circle cx="459.62" cy="2576.36" r="25" fill="#f00"/>
<circle cx="492.38" cy="2355.32" r="25" fill="#f00"/>
<circle cx="574.25" cy="2197.86" r="25" fill="#f00"/>
<circle cx="656.12" cy="2106.15" r="25" fill="#f00"/>
<circle cx="901.75" cy="2047.1" r="25" fill="#f00"/>
<circle cx="1393" cy="2012.11" r="25" fill="#f00"/>
<circle cx="1884.25" cy="1999.86" r="25" fill="#f00"/>
<circle cx="2375.5" cy="1993.16" r="25" fill="#f00"/>
<path d="M417.15 3369.94L417.16 3369.93 M419.31 3358.74L421.28 3348.53 M423.55 3336.74L425.51 3326.53 M427.78 3314.75L429.75 3304.54 M432.02 3292.75L433.98 3282.54 M436.25 3270.76L438.22 3260.54 M440.49 3248.76L442.45 3238.55 M444.72 3226.76L446.69 3216.55 M448.96 3204.77L450.92 3194.56 M453.02 3183.65L453.03 3183.63 M462.09 3113.64L462.63 3105.89 M463.46 3093.92L464.18 3083.54 M465 3071.57L465.72 3061.2 M466.55 3049.23L467.27 3038.85 M468.09 3026.88L468.81 3016.5 M469.64 3004.53L470.36 2994.16 M471.19 2982.19L471.9 2971.81 M472.73 2959.84L473.45 2949.46 M474.28 2937.49L474.99 2927.12 M475.82 2915.15L476.54 2904.77 M477.37 2892.8L478.08 2882.42 M478.91 2870.45L479.63 2860.08 M480.46 2848.11L481.18 2837.73 M482 2825.76L482.72 2815.38 M483.55 2803.41L484.27 2793.04 M485.09 2781.07L485.81 2770.69 M486.64 2758.72L487.36 2748.34 M488.19 2736.37L488.9 2726 M489.73 2714.03L489.91 2711.51 M513.61 2646.97L515.67 2644.18 M522.79 2634.51L528.96 2626.14 M536.08 2616.48L542.25 2608.11 M549.37 2598.45L553.01 2593.51 M587 2531.32L587.01 2531.3 M591.26 2520.17L594.97 2510.45 M599.25 2499.24L602.96 2489.53 M607.25 2478.32L610.96 2468.6 M615.24 2457.39L618.95 2447.67 M623.23 2436.46L626.95 2426.75 M631.23 2415.54L634.94 2405.82 M639.22 2394.61L642.93 2384.9 M689.59 2324.6L697.83 2318.26 M707.34 2310.94L715.58 2304.59 M725.09 2297.27L733.33 2290.93 M742.84 2283.61L751.08 2277.26 M760.59 2269.94L768.83 2263.6 M778.33 2256.28L786.58 2249.93 M796.08 2242.61L804.32 2236.27 M813.83 2228.95L822.07 2222.6 M831.58 2215.28L839.82 2208.94 M849.33 2201.62L857.57 2195.28 M867.08 2187.95L873.38 2183.1 M935.36 2152.2L935.38 2152.19 M946.01 2149.32L956.05 2146.61 M967.64 2143.49L977.68 2140.78 M989.27 2137.65L999.31 2134.94 M1010.89 2131.82L1020.94 2129.11 M1032.52 2125.98L1042.56 2123.27 M1054.15 2120.15L1064.19 2117.44 M1075.77 2114.31L1085.82 2111.61 M1097.4 2108.48L1107.44 2105.77 M1119.03 2102.64L1129.07 2099.94 M1140.65 2096.81L1150.7 2094.1 M1162.28 2090.98L1172.32 2088.27 M1183.91 2085.14L1193.95 2082.43 M1205.54 2079.31L1215.58 2076.6 M1227.16 2073.47L1237.2 2070.76 M1248.79 2067.64L1258.83 2064.93 M1270.42 2061.8L1280.46 2059.09 M1292.04 2055.97L1302.08 2053.26 M1313.67 2050.13L1323.71 2047.42 M1335.3 2044.3L1345.34 2041.59 M1356.92 2038.46L1358.44 2038.06 M1428.8 2028.58L1433.23 2028.56 M1445.23 2028.51L1455.63 2028.47 M1467.63 2028.42L1478.03 2028.38 M1490.03 2028.33L1500.43 2028.28 M1512.43 2028.23L1522.83 2028.19 M1534.83 2028.14L1545.23 2028.1 M1557.23 2028.05L1567.63 2028.01 M1579.63 2027.96L1590.03 2027.91 M1602.03 2027.86L1612.43 2027.82 M1624.43 2027.77L1634.83 2027.73 M1646.83 2027.68L1657.23 2027.63 M1669.23 2027.58L1679.63 2027.54 M1691.63 2027.49L1702.03 2027.45 M1714.03 2027.4L1724.43 2027.35 M1736.43 2027.3L1746.83 2027.26 M1758.83 2027.21L1769.23 2027.17 M1781.23 2027.12L1791.63 2027.07 M1803.63 2027.02L1814.03 2026.98 M1826.03 2026.93L1836.43 2026.89 M1848.43 2026.84L1848.45 2026.84 M1919.99 2024.64L1925.96 2024.3 M1937.94 2023.61L1948.32 2023.02 M1960.3 2022.33L1970.69 2021.74 M1982.67 2021.05L1993.05 2020.46 M2005.03 2019.77L2015.41 2019.18 M2027.39 2018.49L2037.78 2017.9 M2049.76 2017.21L2060.14 2016.61 M2072.12 2015.93L2082.5 2015.33 M2094.48 2014.65L2104.87 2014.05 M2116.85 2013.37L2127.23 2012.77 M2139.21 2012.09L2149.59 2011.49 M2161.57 2010.8L2171.96 2010.21 M2183.94 2009.52L2194.32 2008.93 M2206.3 2008.24L2216.68 2007.65 M2228.66 2006.96L2239.05 2006.37 M2251.03 2005.68L2261.41 2005.09 M2273.39 2004.4L2283.77 2003.8 M2295.75 2003.12L2306.14 2002.52 M2318.12 2001.84L2328.5 2001.24 M2340.11 2000.58L2340.13 2000.58" stroke="#00f" stroke-width="3.6" stroke-linecap="round" fill="none"/>
<polygon points="410.5,3370.1 440.3,3421.7 380.7,3421.7" fill="#00f"/>
<polygon points="459.62,3114.95 489.43,3166.55 429.82,3166.55" fill="#00f"/>
<polygon points="492.38,2641.39 522.17,2692.99 462.57,2692.99" fill="#00f"/>
<polygon points="574.25,2530.29 604.05,2581.89 544.45,2581.89" fill="#00f"/>
<polygon points="656.12,2315.97 685.92,2367.57 626.33,2367.57" fill="#00f"/>
<polygon points="901.75,2126.86 931.55,2178.46 871.95,2178.46" fill="#00f"/>
<polygon points="1393,1994.33 1422.8,2045.93 1363.2,2045.93" fill="#00f"/>
<polygon points="1884.25,1992.29 1914.05,2043.89 1854.45,2043.89" fill="#00f"/>
<polygon points="2375.5,1964.15 2405.3,2015.75 2345.7,2015.75" fill="#00f"/>
<path d="M425.13 3372.5L425.14 3372.48 M429.88 3362.12L434.2 3352.66 M439.19 3341.75L443.51 3332.29 M468.85 3257.66L471.22 3247.54 M473.96 3235.85L476.33 3225.73 M479.07 3214.04L481.44 3203.92 M484.17 3192.23L484.21 3192.08 M517.03 3131.27L521.06 3127.04 M529.32 3118.34L536.49 3110.8 M544.75 3102.1L549.59 3097.01 M594.38 3042.09L594.4 3042.07 M600.95 3032.64L606.88 3024.1 M613.73 3014.25L619.67 3005.71 M626.51 2995.85L632.45 2987.31 M689.13 2934.99L698.23 2929.96 M708.73 2924.15L717.83 2919.11 M728.33 2913.3L737.43 2908.27 M747.93 2902.46L757.03 2897.43 M767.53 2891.62L776.63 2886.58 M787.13 2880.77L796.23 2875.74 M806.73 2869.93L815.83 2864.9 M826.33 2859.09L835.43 2854.05 M845.93 2848.24L855.03 2843.21 M865.53 2837.4L870.42 2834.69 M929.97 2795.34L930.3 2795.09 M939.76 2787.71L947.96 2781.31 M957.42 2773.93L965.62 2767.53 M975.08 2760.15L983.28 2753.75 M992.74 2746.37L1000.94 2739.97 M1010.4 2732.59L1018.6 2726.19 M1028.06 2718.81L1036.26 2712.41 M1045.72 2705.03L1053.92 2698.63 M1063.38 2691.25L1071.58 2684.85 M1081.04 2677.47L1089.24 2671.07 M1098.7 2663.69L1106.9 2657.29 M1116.36 2649.91L1124.56 2643.51 M1134.02 2636.13L1142.22 2629.73 M1151.68 2622.35L1159.88 2615.95 M1169.34 2608.57L1177.54 2602.17 M1187 2594.79L1195.2 2588.39 M1204.66 2581.01L1212.86 2574.61 M1222.32 2567.23L1230.52 2560.83 M1239.98 2553.45L1248.18 2547.06 M1257.64 2539.67L1265.84 2533.28 M1275.3 2525.89L1283.5 2519.5 M1292.96 2512.11L1301.16 2505.72 M1310.62 2498.33L1318.82 2491.94 M1328.28 2484.55L1336.48 2478.16 M1345.94 2470.77L1354.14 2464.38 M1363.6 2456.99L1364.78 2456.08 M1422.13 2413.25L1425.8 2410.63 M1435.57 2403.66L1444.03 2397.61 M1453.8 2390.64L1462.26 2384.6 M1472.03 2377.62L1480.49 2371.58 M1490.26 2364.6L1498.72 2358.56 M1508.49 2351.59L1516.95 2345.54 M1526.72 2338.57L1535.18 2332.53 M1544.95 2325.55L1553.41 2319.51 M1563.18 2312.54L1571.64 2306.49 M1581.4 2299.52L1589.87 2293.47 M1599.63 2286.5L1608.1 2280.46 M1617.86 2273.48L1626.33 2267.44 M1636.09 2260.47L1644.56 2254.42 M1654.32 2247.45L1662.79 2241.4 M1672.55 2234.43L1681.02 2228.39 M1690.78 2221.41L1699.24 2215.37 M1709.01 2208.4L1717.47 2202.35 M1727.24 2195.38L1735.7 2189.34 M1745.47 2182.36L1753.93 2176.32 M1763.7 2169.34L1772.16 2163.3 M1781.93 2156.33L1790.39 2150.28 M1800.16 2143.31L1808.62 2137.27 M1818.39 2130.29L1826.85 2124.25 M1836.62 2117.28L1845.08 2111.23 M1854.85 2104.26L1855.12 2104.06 M1919.62 2077.75L1925.22 2076.88 M1937.08 2075.03L1947.36 2073.43 M1959.21 2071.58L1969.49 2069.98 M1981.35 2068.13L1991.62 2066.53 M2003.48 2064.68L2013.76 2063.08 M2025.61 2061.23L2035.89 2059.63 M2047.74 2057.79L2058.02 2056.18 M2069.88 2054.34L2080.15 2052.74 M2092.01 2050.89L2102.29 2049.29 M2114.14 2047.44L2124.42 2045.84 M2136.28 2043.99L2146.55 2042.39 M2158.41 2040.54L2168.69 2038.94 M2180.54 2037.09L2190.82 2035.49 M2202.68 2033.64L2212.95 2032.04 M2224.81 2030.2L2235.08 2028.59 M2246.94 2026.75L2257.22 2025.15 M2269.07 2023.3L2279.35 2021.7 M2291.21 2019.85L2301.48 2018.25 M2313.34 2016.4L2323.62 2014.8 M2335.47 2012.95L2340.13 2012.23" stroke="#008080" stroke-width="3.6" stroke-linecap="round" fill="none"/>
<polygon points="410.5,3438.9 440.3,3387.3 380.7,3387.3" fill="#008080"/>
<polygon points="459.62,3331.45 489.43,3279.85 429.82,3279.85" fill="#008080"/>
<polygon points="492.38,3191.62 522.17,3140.02 462.57,3140.02" fill="#008080"/>
<polygon points="574.25,3105.46 604.05,3053.86 544.45,3053.86" fill="#008080"/>
<polygon points="656.12,2987.65 685.92,2936.05 626.33,2936.05" fill="#008080"/>
<polygon points="901.75,2851.76 931.55,2800.16 871.95,2800.16" fill="#008080"/>
<polygon points="1393,2468.46 1422.8,2416.86 1363.2,2416.86" fill="#008080"/>
<polygon points="1884.25,2117.66 1914.05,2066.06 1854.45,2066.06" fill="#008080"/>
<polygon points="2375.5,2041.12 2405.3,1989.52 2345.7,1989.52" fill="#008080"/>
<path d="M425.45 3372.64L425.46 3372.63 M430.3 3362.31L434.71 3352.9 M439.81 3342.04L444.23 3332.62 M524.59 3275.17L529.98 3272.56 M540.78 3267.33L542.03 3266.72 M606.91 3236.46L611.12 3234.57 M622.07 3229.66L623.46 3229.03 M690.47 3204.27L694.76 3203 M706.27 3199.61L716.25 3196.68 M727.76 3193.29L737.73 3190.35 M749.25 3186.96L759.22 3184.02 M770.73 3180.63L780.71 3177.7 M792.22 3174.31L802.2 3171.37 M813.71 3167.98L823.69 3165.04 M835.2 3161.65L845.17 3158.72 M856.69 3155.33L866.66 3152.39 M944.05 3136.85L954.38 3135.58 M966.29 3134.11L976.61 3132.84 M988.52 3131.37L998.84 3130.1 M1010.75 3128.63L1021.07 3127.36 M1032.98 3125.9L1043.3 3124.62 M1055.21 3123.16L1065.54 3121.89 M1077.45 3120.42L1087.77 3119.15 M1099.68 3117.68L1110 3116.41 M1121.91 3114.94L1132.23 3113.67 M1144.14 3112.2L1154.46 3110.93 M1166.37 3109.47L1176.7 3108.2 M1188.61 3106.73L1198.93 3105.46 M1210.84 3103.99L1221.16 3102.72 M1233.07 3101.25L1243.39 3099.98 M1255.3 3098.51L1265.62 3097.24 M1277.53 3095.77L1287.86 3094.5 M1299.77 3093.04L1310.09 3091.77 M1322 3090.3L1332.32 3089.03 M1344.23 3087.56L1354.55 3086.29 M1433.38 3079.04L1443.76 3078.39 M1455.74 3077.64L1466.12 3077 M1478.1 3076.25L1488.48 3075.6 M1500.45 3074.86L1510.83 3074.21 M1522.81 3073.46L1533.19 3072.82 M1545.17 3072.07L1555.55 3071.42 M1567.52 3070.68L1577.9 3070.03 M1589.88 3069.28L1600.26 3068.64 M1612.24 3067.89L1622.62 3067.24 M1634.59 3066.5L1644.97 3065.85 M1656.95 3065.1L1667.33 3064.46 M1679.31 3063.71L1689.69 3063.06 M1701.66 3062.32L1712.04 3061.67 M1724.02 3060.92L1734.4 3060.27 M1746.38 3059.53L1756.76 3058.88 M1768.73 3058.13L1779.11 3057.49 M1791.09 3056.74L1801.47 3056.09 M1813.45 3055.35L1823.82 3054.7 M1835.8 3053.95L1846.18 3053.31 M1923.5 3038.88L1933.44 3035.82 M1944.91 3032.3L1954.85 3029.25 M1966.32 3025.72L1976.26 3022.67 M1987.74 3019.15L1997.68 3016.09 M2009.15 3012.57L2019.09 3009.51 M2030.56 3005.99L2040.5 3002.94 M2051.97 2999.41L2061.91 2996.36 M2073.39 2992.84L2083.33 2989.78 M2094.8 2986.26L2104.74 2983.2 M2116.21 2979.68L2126.15 2976.63 M2137.62 2973.1L2147.56 2970.05 M2159.04 2966.53L2168.98 2963.47 M2180.45 2959.95L2190.39 2956.89 M2201.86 2953.37L2211.8 2950.32 M2223.27 2946.79L2233.21 2943.74 M2244.69 2940.22L2254.63 2937.16 M2266.1 2933.64L2276.04 2930.58 M2287.51 2927.06L2297.45 2924.01 M2308.92 2920.48L2318.86 2917.43 M2330.34 2913.91L2340.28 2910.85" stroke="#f0f" stroke-width="3.6" stroke-linecap="round" fill="none"/>
<polygon points="410.5,3373.5 441.5,3404.5 410.5,3435.5 379.5,3404.5" fill="#f0f"/>
<polygon points="459.62,3268.82 490.62,3299.82 459.62,3330.82 428.62,3299.82" fill="#f0f"/>
<polygon points="492.38,3259.78 523.38,3290.78 492.38,3321.78 461.38,3290.78" fill="#f0f"/>
<polygon points="574.25,3220.12 605.25,3251.12 574.25,3282.12 543.25,3251.12" fill="#f0f"/>
<polygon points="656.12,3183.38 687.12,3214.38 656.12,3245.38 625.12,3214.38" fill="#f0f"/>
<polygon points="901.75,3111.06 932.75,3142.06 901.75,3173.06 870.75,3142.06" fill="#f0f"/>
<polygon points="1393,3050.55 1424,3081.55 1393,3112.55 1362,3081.55" fill="#f0f"/>
<polygon points="1884.25,3019.93 1915.25,3050.93 1884.25,3081.93 1853.25,3050.93" fill="#f0f"/>
<polygon points="2375.5,2869.03 2406.5,2900.03 2375.5,2931.03 2344.5,2900.03" fill="#f0f"/>
</g>
<text transform="translate(362.24 3422.3) scale(0.9400 1)" font-size="75" text-anchor="end" letter-spacing="-2.4">0</text>
<text transform="translate(362.24 3130.7) scale(0.9400 1)" font-size="75" text-anchor="end" letter-spacing="-2.4">20</text>
<text transform="translate(362.24 2839.1) scale(0.9400 1)" font-size="75" text-anchor="end" letter-spacing="-2.4">40</text>
<text transform="translate(362.24 2547.5) scale(0.9400 1)" font-size="75" text-anchor="end" letter-spacing="-2.4">60</text>
<text transform="translate(362.24 2255.9) scale(0.9400 1)" font-size="75" text-anchor="end" letter-spacing="-2.4">80</text>
<text transform="translate(362.24 1964.3) scale(0.9400 1)" font-size="75" text-anchor="end" letter-spacing="-2.4">100</text>
<text transform="translate(410.87 3506.3) scale(0.9400 1)" font-size="75" text-anchor="middle" letter-spacing="-2.4">0</text>
<text transform="translate(738.37 3506.3) scale(0.9400 1)" font-size="75" text-anchor="middle" letter-spacing="-2.4">20</text>
<text transform="translate(1065.87 3506.3) scale(0.9400 1)" font-size="75" text-anchor="middle" letter-spacing="-2.4">40</text>
<text transform="translate(1393.37 3506.3) scale(0.9400 1)" font-size="75" text-anchor="middle" letter-spacing="-2.4">60</text>
<text transform="translate(1720.87 3506.3) scale(0.9400 1)" font-size="75" text-anchor="middle" letter-spacing="-2.4">80</text>
<text transform="translate(2048.37 3506.3) scale(0.9400 1)" font-size="75" text-anchor="middle" letter-spacing="-2.4">100</text>
<text transform="translate(2375.87 3506.3) scale(0.9400 1)" font-size="75" text-anchor="middle" letter-spacing="-2.4">120</text>
<text transform="translate(1395 3640.3) scale(0.9500 1)" font-size="85.5" text-anchor="middle">Time (min)</text>
<g transform="translate(133.9 2873.7) rotate(-90)">
<text transform="translate(0 0) scale(0.9250 1)" font-size="87" text-anchor="start">X</text>
<text transform="translate(56.3 33.5) scale(0.9450 1)" font-size="54" text-anchor="start">PhOH</text>
<text transform="translate(223.5 0) scale(0.9850 1)" font-size="85" text-anchor="start">(%)</text>
</g>
<text x="69" y="2030.5" font-size="84" text-anchor="start">b)</text>
<text transform="translate(2320 2274.3) scale(0.9750 1)" font-size="71" text-anchor="end">with EDTA</text>
<path d="M1879.9 2351.4L1890.1 2351.4 M1902.3 2351.4L1912.5 2351.4 M1924.7 2351.4L1930.3 2351.4" stroke="#000" stroke-width="3.8" stroke-linecap="round" fill="none"/>
<path d="M1988.7 2351.4L1998.9 2351.4 M2011.1 2351.4L2021.3 2351.4 M2033.5 2351.4L2039.1 2351.4" stroke="#000" stroke-width="3.8" stroke-linecap="round" fill="none"/>
<rect x="1937" y="2328.9" width="45" height="45" fill="#000"/>
<text transform="translate(2322 2374.9) scale(0.9650 1)" font-size="71" text-anchor="end">pH = 3.0</text>
<path d="M1879.5 2439.4L1890.5 2439.4 M1901.9 2439.4L1912.9 2439.4 M1924.3 2439.4L1930.7 2439.4" stroke="#f00" stroke-width="3.0" stroke-linecap="round" fill="none"/>
<path d="M1988.3 2439.4L1999.3 2439.4 M2010.7 2439.4L2021.7 2439.4 M2033.1 2439.4L2039.5 2439.4" stroke="#f00" stroke-width="3.0" stroke-linecap="round" fill="none"/>
<circle cx="1959.5" cy="2439.4" r="25" fill="#f00"/>
<text transform="translate(2322 2462.9) scale(0.9650 1)" font-size="71" text-anchor="end">pH = 5.0</text>
<path d="M1879.5 2527.4L1890.5 2527.4 M1901.9 2527.4L1912.9 2527.4 M1924.3 2527.4L1930.7 2527.4" stroke="#00f" stroke-width="3.0" stroke-linecap="round" fill="none"/>
<path d="M1988.3 2527.4L1999.3 2527.4 M2010.7 2527.4L2021.7 2527.4 M2033.1 2527.4L2039.5 2527.4" stroke="#00f" stroke-width="3.0" stroke-linecap="round" fill="none"/>
<polygon points="1959.5,2493 1989.3,2544.6 1929.7,2544.6" fill="#00f"/>
<text transform="translate(2322 2550.9) scale(0.9650 1)" font-size="71" text-anchor="end">pH = 7.0</text>
<path d="M1879.5 2615.4L1890.5 2615.4 M1901.9 2615.4L1912.9 2615.4 M1924.3 2615.4L1930.7 2615.4" stroke="#008080" stroke-width="3.0" stroke-linecap="round" fill="none"/>
<path d="M1988.3 2615.4L1999.3 2615.4 M2010.7 2615.4L2021.7 2615.4 M2033.1 2615.4L2039.5 2615.4" stroke="#008080" stroke-width="3.0" stroke-linecap="round" fill="none"/>
<polygon points="1959.5,2649.8 1989.3,2598.2 1929.7,2598.2" fill="#008080"/>
<text transform="translate(2322 2638.9) scale(0.9650 1)" font-size="71" text-anchor="end">pH = 7.5</text>
<path d="M1879.5 2703.4L1890.5 2703.4 M1901.9 2703.4L1912.9 2703.4 M1924.3 2703.4L1930.7 2703.4" stroke="#f0f" stroke-width="3.0" stroke-linecap="round" fill="none"/>
<path d="M1988.3 2703.4L1999.3 2703.4 M2010.7 2703.4L2021.7 2703.4 M2033.1 2703.4L2039.5 2703.4" stroke="#f0f" stroke-width="3.0" stroke-linecap="round" fill="none"/>
<polygon points="1959.5,2672.4 1990.5,2703.4 1959.5,2734.4 1928.5,2703.4" fill="#f0f"/>
<text transform="translate(2322 2726.9) scale(0.9650 1)" font-size="71" text-anchor="end">pH = 8.0</text>
</svg></body></html>
